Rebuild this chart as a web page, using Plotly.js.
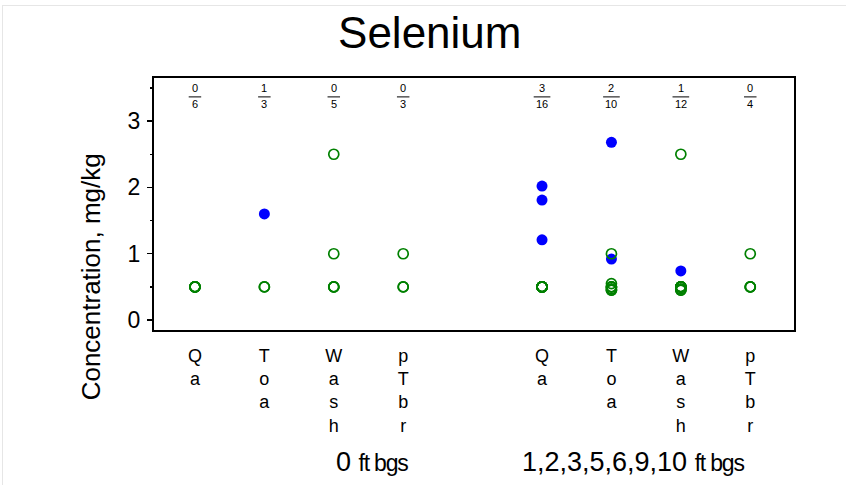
<!DOCTYPE html>
<html>
<head>
<meta charset="utf-8">
<script src="https://cdn.plot.ly/plotly-3.0.1.min.js"></script>
<style>
  html, body { margin: 0; padding: 0; background: #ffffff; }
  #wrap { position: relative; width: 846px; height: 485px; }
  #chart { position: absolute; left: 0; top: 0; width: 846px; height: 485px; }
  #frame { position: absolute; left: 2px; top: 5px; right: 0; bottom: 0;
           border-top: 1px solid #e6e6e6; border-left: 1px solid #e6e6e6;
           pointer-events: none; }
</style>
</head>
<body>
<div id="wrap">
  <div id="chart"></div>
  <div id="frame"></div>
</div>
<script>
// Geologic units and depth intervals
const units = ['Qa', 'Toa', 'Wash', 'pTbr'];
const depths = ['0', '1,2,3,5,6,9,10'];

// Detected selenium concentrations (mg/kg), per depth interval then per unit
const detects0 = [[], [1.6], [], []];
const detects1 = [[2.02, 1.81, 1.21], [2.68, 0.92], [0.74], []];

// Non-detects plotted at their reporting limits (mg/kg)
const nondetects0 = [
  [0.5, 0.5, 0.5, 0.5, 0.5, 0.5],
  [0.5, 0.5],
  [2.5, 1.0, 0.5, 0.5, 0.5],
  [1.0, 0.5, 0.5]
];
const nondetects1 = [
  [0.5, 0.5, 0.5, 0.5, 0.5, 0.5, 0.5, 0.5, 0.5, 0.5, 0.5, 0.5, 0.5],
  [1.0, 0.55, 0.5, 0.5, 0.5, 0.47, 0.45, 0.45],
  [2.5, 0.5, 0.5, 0.5, 0.5, 0.5, 0.5, 0.5, 0.47, 0.45, 0.45],
  [1.0, 0.5, 0.5, 0.5]
];

const detectGroups = [detects0, detects1];
const nondetectGroups = [nondetects0, nondetects1];

const REG = 'Liberation Sans, Arial, sans-serif';

// x position of a unit within a depth group (one empty slot between groups)
function slot(g, u) { return 1 + g * (units.length + 1) + u; }

const dx = [], dy = [], nx = [], ny = [];
const tickvals = [], ticktext = [];
const annotations = [], shapes = [];

depths.forEach((d, g) => {
  units.forEach((name, u) => {
    const p = slot(g, u);
    const det = detectGroups[g][u];
    const nd = nondetectGroups[g][u];
    det.forEach(v => { dx.push(p); dy.push(v); });
    nd.forEach(v => { nx.push(p); ny.push(v); });
    tickvals.push(p);
    ticktext.push(name.split('').join('<br>'));

    // detection frequency: detects over total samples
    const num = String(det.length);
    const den = String(det.length + nd.length);
    annotations.push({ x: p, xref: 'x', y: 0.962, yref: 'paper', text: num,
      showarrow: false, xanchor: 'center', yanchor: 'middle',
      font: { family: REG, size: 11, color: '#000' } });
    annotations.push({ x: p, xref: 'x', y: 0.895, yref: 'paper', text: den,
      showarrow: false, xanchor: 'center', yanchor: 'middle',
      font: { family: REG, size: 11, color: '#000' } });
    const half = 0.09 + 0.03 * (den.length - 1);
    shapes.push({ type: 'line', xref: 'x', yref: 'paper',
      x0: p - half, x1: p + half, y0: 0.925, y1: 0.925,
      line: { color: '#000', width: 1 } });
  });
});

// depth interval labels under each group
const depthLabelX = [0.34, 0.748];
depths.forEach((d, g) => {
  annotations.push({ x: depthLabelX[g], xref: 'paper', y: -0.524, yref: 'paper',
    text: '<span style="font-size:27px">' + d + ' </span>' +
          '<span style="font-size:23px;letter-spacing:-1.2px">ft bgs</span>',
    showarrow: false, xanchor: 'center', yanchor: 'middle',
    font: { family: REG, size: 23, color: '#000' } });
});

// vertical axis label
annotations.push({ x: -0.098, xref: 'paper', y: 0.21, yref: 'paper',
  text: 'Concentration, mg/kg', textangle: -90, showarrow: false,
  xanchor: 'center', yanchor: 'middle',
  font: { family: REG, size: 26, color: '#000' } });

const traces = [
  { type: 'scatter', mode: 'markers', x: dx, y: dy, name: 'Detect',
    marker: { symbol: 'circle', size: 11, color: '#0000ff' }, hoverinfo: 'y' },
  { type: 'scatter', mode: 'markers', x: nx, y: ny, name: 'Non-detect',
    marker: { symbol: 'circle-open', size: 10, color: '#008000', line: { width: 1.7 } },
    hoverinfo: 'y' }
];

const layout = {
  width: 846, height: 485,
  margin: { l: 154, r: 52, t: 78, b: 155 },
  paper_bgcolor: '#ffffff', plot_bgcolor: '#ffffff',
  showlegend: false,
  title: { text: 'Selenium', x: 0.508, xref: 'container', xanchor: 'center',
           y: 0.932, yref: 'container', yanchor: 'middle',
           font: { family: REG, size: 44, color: '#000' } },
  xaxis: {
    range: [0.41, 9.63], tickvals: tickvals, ticktext: ticktext,
    ticks: '', showgrid: false, zeroline: false,
    showline: true, mirror: true, linecolor: '#000', linewidth: 2,
    tickfont: { family: REG, size: 18, color: '#000' },
    ticklabelstandoff: 8
  },
  yaxis: {
    range: [-0.15, 3.65], tickvals: [0, 1, 2, 3],
    ticks: 'outside', ticklen: 5, tickwidth: 1.5, tickcolor: '#000',
    minor: { dtick: 0.5, tick0: 0, ticks: 'outside', ticklen: 2, tickwidth: 1.5, tickcolor: '#000' },
    showgrid: false, zeroline: false,
    showline: true, mirror: true, linecolor: '#000', linewidth: 2,
    tickfont: { family: REG, size: 23, color: '#000' },
    ticklabelstandoff: 2
  },
  annotations: annotations,
  shapes: shapes
};

Plotly.newPlot('chart', traces, layout, { staticPlot: true, displayModeBar: false });
</script>
</body>
</html>
